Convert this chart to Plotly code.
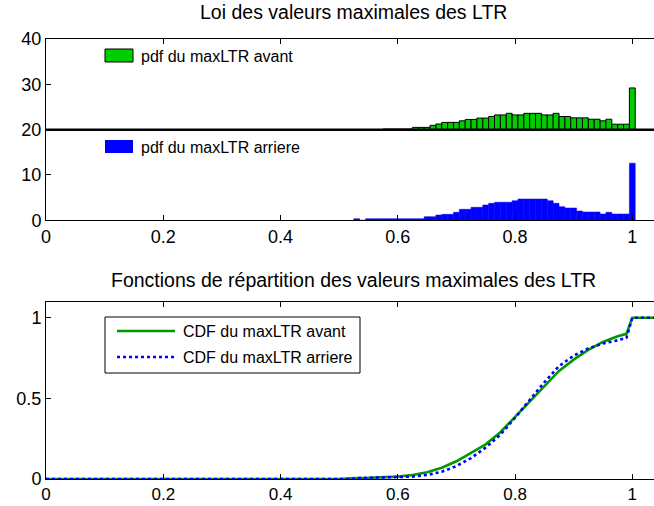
import plotly.graph_objects as go

# ---- data -----------------------------------------------------------------
# histogram of the maximal LTR value, "avant" (drawn on a baseline of 20)
avant_x = [0.58, 0.59, 0.60, 0.61, 0.62, 0.63, 0.64, 0.65, 0.66, 0.67,
           0.68, 0.69, 0.70, 0.71, 0.72, 0.73, 0.74, 0.75, 0.76, 0.77,
           0.78, 0.79, 0.80, 0.81, 0.82, 0.83, 0.84, 0.85, 0.86, 0.87,
           0.88, 0.89, 0.90, 0.91, 0.92, 0.93, 0.94, 0.95, 0.96, 0.97,
           0.98, 0.99, 1.00]
avant_pdf = [0.15, 0.15, 0.15, 0.15, 0.15, 0.5, 0.5, 0.5, 0.95, 1.25,
             1.6, 1.6, 1.6, 1.95, 2.25, 2.25, 2.55, 2.55, 2.9, 3.25,
             3.25, 3.6, 3.25, 3.25, 3.6, 3.6, 3.6, 3.25, 3.25, 3.6,
             2.9, 2.9, 2.6, 2.6, 2.6, 2.3, 2.3, 1.95, 2.3, 1.2,
             1.2, 1.2, 9.2]
avant_base = 20

# histogram of the maximal LTR value, "arriere"
arriere_x = [0.53, 0.54, 0.55, 0.56, 0.57, 0.58, 0.59, 0.60, 0.61, 0.62,
             0.63, 0.64, 0.65, 0.66, 0.67, 0.68, 0.69, 0.70, 0.71, 0.72,
             0.73, 0.74, 0.75, 0.76, 0.77, 0.78, 0.79, 0.80, 0.81, 0.82,
             0.83, 0.84, 0.85, 0.86, 0.87, 0.88, 0.89, 0.90, 0.91, 0.92,
             0.93, 0.94, 0.95, 0.96, 0.97, 0.98, 0.99, 1.00]
arriere_pdf = [0.35, 0.0, 0.35, 0.35, 0.35, 0.35, 0.35, 0.35, 0.35, 0.35,
               0.35, 0.35, 0.8, 0.8, 1.17, 1.32, 1.32, 1.77, 2.43, 2.43,
               2.87, 2.87, 3.38, 3.75, 3.97, 4.0, 4.0, 4.33, 4.7, 4.7,
               4.7, 4.7, 4.7, 4.33, 3.75, 3.0, 2.72, 2.72, 2.05, 1.83,
               1.83, 1.83, 1.39, 1.77, 1.39, 1.39, 1.39, 12.6]
bin_width = 0.01

# cumulative distribution functions
cdf_avant_x = [0.0, 0.50, 0.52, 0.55, 0.60, 0.625, 0.65, 0.675, 0.70, 0.725,
               0.75, 0.775, 0.80, 0.825, 0.85, 0.875, 0.90, 0.925, 0.95,
               0.975, 0.99, 1.00, 1.05]
cdf_avant = [0.0, 0.0, 0.005, 0.007, 0.015, 0.025, 0.042, 0.07, 0.11, 0.16,
             0.215, 0.29, 0.385, 0.48, 0.58, 0.67, 0.74, 0.80, 0.85,
             0.885, 0.90, 1.0, 1.0]
cdf_arriere_x = [0.0, 0.52, 0.53, 0.60, 0.625, 0.65, 0.675, 0.70, 0.725,
                 0.75, 0.775, 0.80, 0.825, 0.85, 0.875, 0.90, 0.925, 0.95,
                 0.975, 0.99, 1.00, 1.05]
cdf_arriere = [0.0, 0.0, 0.005, 0.01, 0.015, 0.025, 0.045, 0.08, 0.13,
               0.195, 0.275, 0.38, 0.49, 0.60, 0.70, 0.765, 0.81, 0.84,
               0.86, 0.875, 1.0, 1.0]

x_ticks = [0, 0.2, 0.4, 0.6, 0.8, 1.0]
x_labels = ["0", "0.2", "0.4", "0.6", "0.8", "1"]
top_y_ticks = [0, 10, 20, 30, 40]
bot_y_ticks = [0, 0.5, 1]
bot_y_labels = ["0", "0.5", "1"]

title_top = "Loi des valeurs maximales des LTR"
title_bot = "Fonctions de répartition des valeurs maximales des LTR"
leg_avant = "pdf du maxLTR avant"
leg_arriere = "pdf du maxLTR arriere"
leg_cdf_avant = "CDF du maxLTR avant"
leg_cdf_arriere = "CDF du maxLTR arriere"

# ---- styling --------------------------------------------------------------
W, H = 654, 506
ML, MR, MT, MB = 46, 0, 39, 27
FONT = "Liberation Sans, Arial, Helvetica, sans-serif"
GREEN_BAR = "#00cc00"
BLUE = "#0000ff"
GREEN_LINE = "#009a00"
X_MAX = 1.037

PW, PH = W - ML - MR, H - MT - MB


def px_x(px):
    return (px - ML) / PW


def px_y(py):
    return (H - MB - py) / PH


fig = go.Figure()

fig.add_trace(go.Bar(
    x=avant_x, y=avant_pdf, base=avant_base, width=bin_width,
    marker=dict(color=GREEN_BAR, line=dict(color="black", width=1)),
    xaxis="x", yaxis="y", showlegend=False, name=leg_avant,
))
fig.add_trace(go.Bar(
    x=arriere_x, y=arriere_pdf, width=bin_width,
    marker=dict(color=BLUE, line=dict(color=BLUE, width=0.5)),
    xaxis="x", yaxis="y", showlegend=False, name=leg_arriere,
))
fig.add_trace(go.Scatter(
    x=cdf_avant_x, y=cdf_avant, mode="lines",
    line=dict(color=GREEN_LINE, width=2.6),
    xaxis="x2", yaxis="y2", showlegend=False, name=leg_cdf_avant,
))
fig.add_trace(go.Scatter(
    x=cdf_arriere_x, y=cdf_arriere, mode="lines",
    line=dict(color=BLUE, width=2.6, dash="dot"),
    xaxis="x2", yaxis="y2", showlegend=False, name=leg_cdf_arriere,
))

axis_common = dict(
    showgrid=False, zeroline=False, showline=True, linecolor="black",
    linewidth=1, ticks="inside", ticklen=5, tickcolor="black",
    automargin=False,
    tickfont=dict(family=FONT, size=18, color="black"),
)

top_dom = [px_y(220.3), 1.0]
bot_dom = [0.0, px_y(301.6)]

fig.update_layout(
    width=W, height=H,
    margin=dict(l=ML, r=MR, t=MT, b=MB, autoexpand=False),
    paper_bgcolor="white", plot_bgcolor="white",
    barmode="overlay",
    xaxis=dict(domain=[0, 1], range=[0, X_MAX], anchor="y",
               tickvals=x_ticks, ticktext=x_labels, mirror="ticks",
               **axis_common),
    yaxis=dict(domain=top_dom, range=[0, 40], anchor="x",
               tickvals=top_y_ticks, **axis_common),
    xaxis2=dict(domain=[0, 1], range=[0, X_MAX], anchor="y2",
                tickvals=x_ticks, ticktext=x_labels, mirror="ticks",
                **axis_common),
    yaxis2=dict(domain=bot_dom, range=[0, 1.1], anchor="x2",
                tickvals=bot_y_ticks, ticktext=bot_y_labels, **axis_common),
)
fig.update_layout(xaxis2_tickfont=dict(family=FONT, size=17, color="black"))

shapes = []
# thick baseline of the upper histogram
shapes.append(dict(type="line", xref="x domain", yref="y",
                   x0=0, x1=1, y0=avant_base, y1=avant_base,
                   line=dict(color="black", width=2.5), layer="above"))

# legend entries of the upper panel
shapes.append(dict(type="rect", xref="paper", yref="paper",
                   x0=px_x(105), x1=px_x(133), y0=px_y(62), y1=px_y(49),
                   fillcolor=GREEN_BAR, line=dict(color="black", width=1)))
shapes.append(dict(type="rect", xref="paper", yref="paper",
                   x0=px_x(105), x1=px_x(133), y0=px_y(153), y1=px_y(140),
                   fillcolor=BLUE, line=dict(color=BLUE, width=0)))

# legend box of the lower panel
shapes.append(dict(type="rect", xref="paper", yref="paper",
                   x0=px_x(105), x1=px_x(360), y0=px_y(373), y1=px_y(317),
                   fillcolor="white", line=dict(color="black", width=1)))
shapes.append(dict(type="line", xref="paper", yref="paper",
                   x0=px_x(117), x1=px_x(175), y0=px_y(331), y1=px_y(331),
                   line=dict(color=GREEN_LINE, width=2.6)))
shapes.append(dict(type="line", xref="paper", yref="paper",
                   x0=px_x(117), x1=px_x(175), y0=px_y(357), y1=px_y(357),
                   line=dict(color=BLUE, width=2.6, dash="dot")))

annotations = [
    dict(text=title_top, xref="x", yref="paper", x=0.525, y=px_y(12),
         xanchor="center", yanchor="middle", showarrow=False,
         font=dict(family=FONT, size=19.5, color="black")),
    dict(text=title_bot, xref="x", yref="paper", x=0.525, y=px_y(280),
         xanchor="center", yanchor="middle", showarrow=False,
         font=dict(family=FONT, size=19.5, color="black")),
    dict(text=leg_avant, xref="paper", yref="paper", x=px_x(139), y=px_y(56),
         xanchor="left", yanchor="middle", showarrow=False,
         font=dict(family=FONT, size=16, color="black")),
    dict(text=leg_arriere, xref="paper", yref="paper", x=px_x(139), y=px_y(147),
         xanchor="left", yanchor="middle", showarrow=False,
         font=dict(family=FONT, size=16, color="black")),
    dict(text=leg_cdf_avant, xref="paper", yref="paper", x=px_x(181), y=px_y(331),
         xanchor="left", yanchor="middle", showarrow=False,
         font=dict(family=FONT, size=16, color="black")),
    dict(text=leg_cdf_arriere, xref="paper", yref="paper", x=px_x(181), y=px_y(357),
         xanchor="left", yanchor="middle", showarrow=False,
         font=dict(family=FONT, size=16, color="black")),
]

fig.update_layout(shapes=shapes, annotations=annotations)

fig.write_html("out.html")
